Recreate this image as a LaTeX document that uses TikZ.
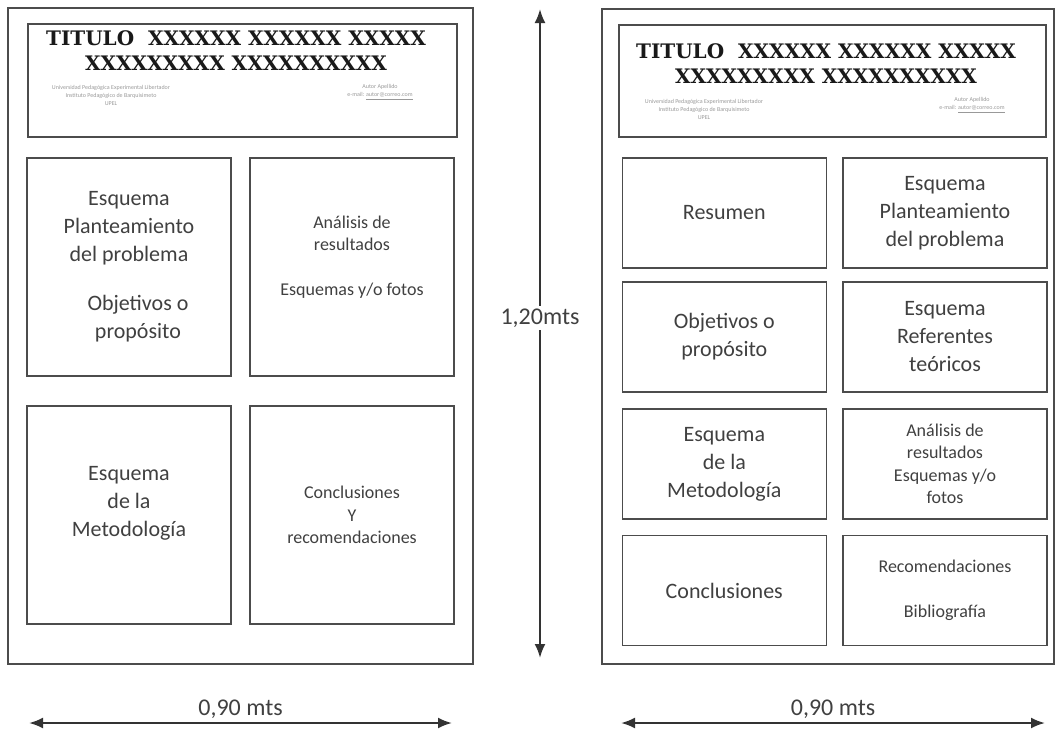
\documentclass[tikz,border=0pt]{standalone}
\usepackage{fontspec}
\setmainfont{Carlito}
\newfontfamily\titulofont{DejaVu Serif}
\usetikzlibrary{arrows.meta}

\begin{document}
\begin{tikzpicture}[x=1pt, y=-1pt,
	caja/.style={draw=black!70, line width=1.6pt, text=black!75, align=center, inner sep=0pt},
	grande/.style={caja, font=\fontsize{22}{28}\selectfont},
	chica/.style={caja, font=\fontsize{18}{22.5}\selectfont},
	alta/.style={minimum width=204, minimum height=218},
	baja/.style={minimum width=204, minimum height=110},
	titulo/.style={font=\titulofont\bfseries\fontsize{20}{25}\selectfont, text=black!90, align=center},
	pie/.style={font=\fontsize{6}{8}\selectfont, text=black!40, align=center},
	medida/.style={font=\fontsize{24}{28}\selectfont, text=black!75, inner sep=3pt},
	flecha/.style={{Latex[length=14pt,width=11pt]}-{Latex[length=14pt,width=11pt]}, line width=2.2pt, draw=black!80}]
	\useasboundingbox (0,0) rectangle (1056,734);
	% poster izquierdo
	\node[caja, minimum width=465, minimum height=656] (P1) at (240.5,336) {};
	\node[caja, minimum width=429, minimum height=113] (T1) at (242.5,80.5) {};
	\node[titulo] (X1) at (236,50.5) {TITULO\ \ XXXXXX XXXXXX XXXXX\\XXXXXXXXX XXXXXXXXXX};
	\node[pie] (U1) at (111,95) {Universidad Pedagógica Experimental Libertador\\Instituto Pedagógico de Barquisimeto\\UPEL};
	\node[pie] (M1) at (380,92) {Autor Apellido\\e-mail: \underline{autor@correo.com}};
	\node[grande, alta] (A1) at (129,267) {Esquema\\Planteamiento\\del problema\\[21pt]\hspace*{18pt}Objetivos o\\\hspace*{18pt}propósito};
	\node[chica, alta] (B1) at (352,267) {Análisis de\\resultados\\[22.5pt]Esquemas y/o fotos\\\mbox{}};
	\node[grande, alta] (C1) at (129,515) {Esquema\\de la\\Metodología\\\mbox{}};
	\node[chica, alta] (D1) at (352,515) {Conclusiones\\Y\\recomendaciones};
	% poster derecho
	\node[caja, minimum width=452, minimum height=655] (P2) at (828,336.5) {};
	\node[caja, minimum width=427, minimum height=112] (T2) at (832.5,81) {};
	\node[titulo] (X2) at (826,64) {TITULO\ \ XXXXXX XXXXXX XXXXX\\XXXXXXXXX XXXXXXXXXX};
	\node[pie] (U2) at (704,109) {Universidad Pedagógica Experimental Libertador\\Instituto Pedagógico de Barquisimeto\\UPEL};
	\node[pie] (M2) at (972,105) {Autor Apellido\\e-mail: \underline{autor@correo.com}};
	\node[grande, baja] (R1) at (724.3,213) {Resumen};
	\node[grande, baja] (R2) at (945,213) {Esquema\\Planteamiento\\del problema};
	\node[grande, baja] (R3) at (724.3,337) {Objetivos o\\propósito};
	\node[grande, baja] (R4) at (945,337) {Esquema\\Referentes\\teóricos};
	\node[grande, baja] (R5) at (724.3,464) {Esquema\\de la\\Metodología};
	\node[chica, baja] (R6) at (945,464) {Análisis de\\resultados\\Esquemas y/o\\fotos};
	\node[grande, baja] (R7) at (724.3,590.5) {Conclusiones};
	\node[chica, baja] (R8) at (945,590.5) {Recomendaciones\\[22.5pt]Bibliografía};
	% medidas
	\coordinate (V1) at (540,9);
	\coordinate (V2) at (540,658);
	\draw[flecha] (V1) -- node[medida, fill=white, pos=0.476] (H) {1,20mts} (V2);
	\coordinate (I1) at (29,723);
	\coordinate (I2) at (452,723);
	\draw[flecha] (I1) -- node[medida, above] (W1) {0,90 mts} (I2);
	\coordinate (J1) at (621,723);
	\coordinate (J2) at (1045,723);
	\draw[flecha] (J1) -- node[medida, above] (W2) {0,90 mts} (J2);
\end{tikzpicture}
\end{document}
